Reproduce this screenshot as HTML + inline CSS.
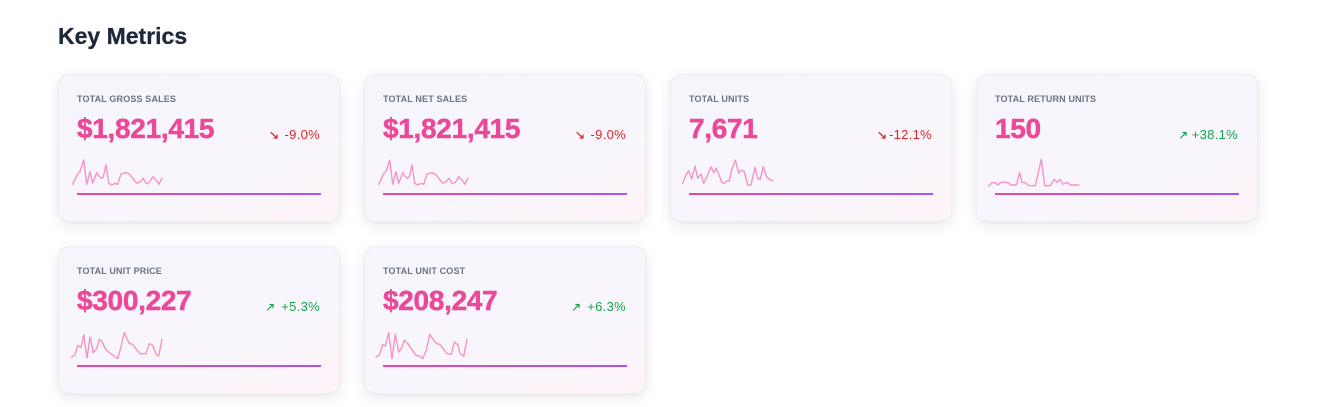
<!DOCTYPE html>
<html><head><meta charset="utf-8"><style>
*{margin:0;padding:0;box-sizing:border-box}
html,body{width:1333px;height:407px;background:#fff;overflow:hidden;font-family:"Liberation Sans",Arial,sans-serif;position:relative}
.title{position:absolute;left:58px;top:25px;font-size:23px;line-height:23px;font-weight:700;color:#1e293b;-webkit-text-stroke:0.3px #1e293b}
.card{position:absolute;width:282px;height:148px;border-radius:12px;border:1px solid #eeedf4;background:linear-gradient(160deg,#f6f5fc 0%,#f8f6fc 60%,#fdf4f9 100%);box-shadow:0 4px 14px rgba(30,30,60,0.09),0 1px 3px rgba(30,30,60,0.05)}
.lbl{position:absolute;left:18px;top:20px;font-size:9px;line-height:9px;font-weight:700;letter-spacing:0.15px;color:#6b7280}
.num{position:absolute;left:18px;top:40px;font-size:28px;line-height:28px;font-weight:700;color:#ec4899;letter-spacing:-0.3px;-webkit-text-stroke:0.5px #ec4899}
.chg{position:absolute;right:19px;top:53px;font-size:13px;line-height:13px;font-weight:400;letter-spacing:0.3px}
.red{color:#dc2626}.grn{color:#16a34a}
.bar{position:absolute;left:18px;top:118px;width:244px;height:2px;background:linear-gradient(90deg,#ec4899,#a855f7)}
svg.ov{position:absolute;left:0;top:0}
</style></head><body>
<div class="title">Key Metrics</div>

<div class="card" style="left:58px;top:74px"><div class="lbl">TOTAL GROSS SALES</div><div class="num">$1,821,415</div><div class="chg red">-9.0%</div><div class="bar"></div></div>
<div class="card" style="left:364px;top:74px"><div class="lbl">TOTAL NET SALES</div><div class="num">$1,821,415</div><div class="chg red">-9.0%</div><div class="bar"></div></div>
<div class="card" style="left:670px;top:74px"><div class="lbl">TOTAL UNITS</div><div class="num">7,671</div><div class="chg red">-12.1%</div><div class="bar"></div></div>
<div class="card" style="left:976px;top:74px"><div class="lbl">TOTAL RETURN UNITS</div><div class="num">150</div><div class="chg grn">+38.1%</div><div class="bar"></div></div>
<div class="card" style="left:58px;top:246px"><div class="lbl">TOTAL UNIT PRICE</div><div class="num">$300,227</div><div class="chg grn">+5.3%</div><div class="bar"></div></div>
<div class="card" style="left:364px;top:246px"><div class="lbl">TOTAL UNIT COST</div><div class="num">$208,247</div><div class="chg grn">+6.3%</div><div class="bar"></div></div>

<svg class="ov" width="1333" height="407" viewBox="0 0 1333 407">
<g fill="none" stroke="#f472b6" stroke-opacity="0.75" stroke-width="1.4" stroke-linejoin="round" stroke-linecap="round">
<polyline points="72.7,184.3 78.3,172.7 80,171.7 83.7,160 86.7,184.3 90,171.7 92.7,183.3 96.7,172.7 98.7,176 101.7,178.3 103.3,176.7 106,165 108.7,183.3 111.7,185 115.3,183.3 117.7,184.3 121,174 126,172.7 129.3,174 132.7,178.3 136.7,183.3 140,181.7 143.3,178.3 146,183.3 149.3,182.7 152.7,176.7 156.7,180.7 158.7,184.3 162,178.3"/>
<g transform="translate(306,0)"><polyline points="72.7,184.3 78.3,172.7 80,171.7 83.7,160 86.7,184.3 90,171.7 92.7,183.3 96.7,172.7 98.7,176 101.7,178.3 103.3,176.7 106,165 108.7,183.3 111.7,185 115.3,183.3 117.7,184.3 121,174 126,172.7 129.3,174 132.7,178.3 136.7,183.3 140,181.7 143.3,178.3 146,183.3 149.3,182.7 152.7,176.7 156.7,180.7 158.7,184.3 162,178.3"/></g>
<polyline points="682.7,183.3 686,175 688.7,170.7 691.7,179 695,166 697.7,178.3 701,174 703.7,183.3 707,176.7 711,166.7 713.7,172.7 716,168.3 718.7,174 721.7,182.3 724.3,183.3 726.7,181 729.3,181 731.7,170 735.3,160 738.7,173.3 741,170 744.3,171.7 747.7,185 751,185 755,167.3 757.7,178.3 760.3,179.3 763.3,166.7 766.7,176.7 769.3,179.3 772.7,180.7"/>
<polyline points="988.7,186 992,182.7 995.3,182.7 997.7,185 1001,182.3 1007,182.3 1011,185 1016.3,185 1019.7,172.7 1022,182.3 1025.3,182.7 1028.7,185.7 1035.3,185.7 1041.3,159.3 1044.7,185.7 1050.3,185.7 1054.3,179.3 1057,182.3 1060.3,179.3 1063,184.3 1067,182.3 1070.3,185 1078.7,185"/>
<polyline points="71.7,357 75,354.7 77.7,345.3 81,347.7 83.7,334.7 87,358 90,337 93.3,352.7 96.7,348.7 99.3,339.3 102,341.3 105.3,348.7 109.3,352.7 113.3,355.3 117.7,358.7 121,347 124.3,332.7 129.3,343.7 132.7,344.3 136,348.7 140,353.7 146,353.7 149.3,343.7 152.7,345.3 156,354.3 158.7,356 162,339.3"/>
<polyline points="376,357 379.3,355.3 382.7,344.7 385.3,346 388.7,332.7 392,358.7 395.3,334.3 398.7,352 401.3,348.7 404.3,340.3 407.7,343.7 411.3,348.7 416,355.3 420.3,356.3 422.7,358.7 426.3,350.3 429.7,334.3 433.7,340.3 437,343.7 439.7,344.3 443,348.7 447,353.7 451.3,354.3 454.3,342 457.7,344.7 460.3,353.7 463.7,356.3 467,339.3"/>
</g>
<g fill="none" stroke-width="1.2" stroke-linecap="round">
<g stroke="#dc2626">
<path d="M271,132.5 L277,138 M277,135 L277,138 L274,138"/>
<path d="M577,132.5 L583,138 M583,135 L583,138 L580,138"/>
<path d="M879,132.5 L885,138 M885,135 L885,138 L882,138"/>
</g>
<g stroke="#16a34a">
<path d="M1180.5,138 L1186,132.5 M1183,132.5 L1186,132.5 L1186,135.5"/>
<path d="M267.5,310 L273,304.5 M270,304.5 L273,304.5 L273,307.5"/>
<path d="M573.5,310 L579,304.5 M576,304.5 L579,304.5 L579,307.5"/>
</g>
</g>
</svg>
</body></html>
